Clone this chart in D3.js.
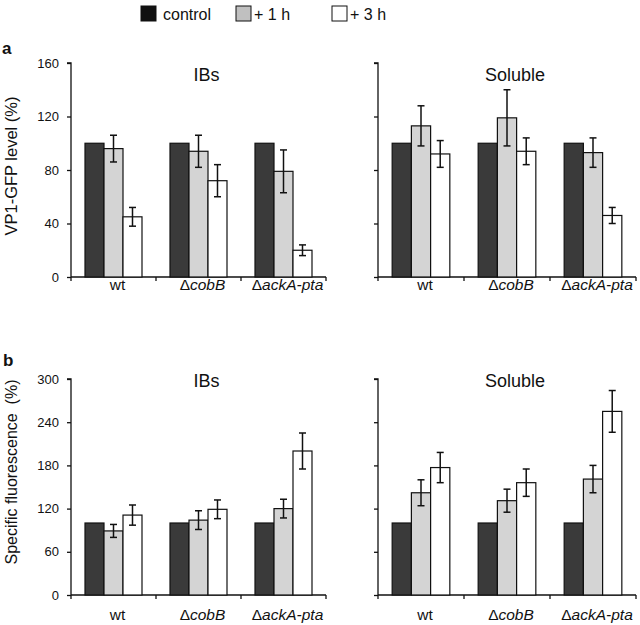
<!DOCTYPE html>
<html><head><meta charset="utf-8">
<script src="https://cdn.jsdelivr.net/npm/d3@7"></script>
<style>body{margin:0;background:#fff}svg{display:block}text{font-family:"Liberation Sans",Arial,sans-serif}</style>
</head><body>
<script>
const strains = ["wt", "ΔcobB", "ΔackA-pta"];
const series = ["control", "+ 1 h", "+ 3 h"];
const colors = ["#3a3a3a", "#d4d4d4", "#ffffff"];

// panel a: VP1-GFP level (%)
const aIBsVal = [[100, 96, 45], [100, 94, 72], [100, 79, 20]];
const aIBsErr = [[0, 10, 7], [0, 12, 12], [0, 16, 4]];
const aSolVal = [[100, 113, 92], [100, 119, 94], [100, 93, 46]];
const aSolErr = [[0, 15, 10], [0, 21, 10], [0, 11, 6]];
const aTicks = [0, 40, 80, 120, 160];

// panel b: Specific fluorescence (%)
const bIBsVal = [[100, 89, 111], [100, 104, 119], [100, 120, 200]];
const bIBsErr = [[0, 9, 14], [0, 13, 13], [0, 13, 25]];
const bSolVal = [[100, 142, 177], [100, 131, 156], [100, 161, 255]];
const bSolErr = [[0, 18, 21], [0, 16, 19], [0, 19, 29]];
const bTicks = [0, 60, 120, 180, 240, 300];

const W = 640, H = 625;
const svg = d3.select("body").append("svg").attr("width", W).attr("height", H);
const font = '"Liberation Sans",Arial,sans-serif';

function panel(x0, x1, y0, y1, vals, errs, ticks, title, showLabels, titleY, labelY) {
  const g = svg.append("g");
  const x = d3.scaleBand().domain(strains).range([x0, x1]).padding(0);
  const xi = d3.scaleBand().domain(series).range([0, x.bandwidth()]).paddingInner(0).paddingOuter(0.737);
  const y = d3.scaleLinear().domain([0, ticks[ticks.length - 1]]).range([y0, y1]);

  // y axis
  const ya = d3.axisLeft(y).tickValues(ticks).tickSize(4).tickPadding(8)
    .tickFormat(showLabels ? d3.format("d") : () => "");
  const yg = g.append("g").attr("transform", `translate(${x0},0)`).call(ya);
  yg.select(".domain").attr("d", `M-4,${y1}H0V${y0}`).attr("stroke", "#111").attr("stroke-width", 1.3);
  yg.selectAll(".tick line").attr("stroke", "#111").attr("stroke-width", 1.3);
  yg.selectAll(".tick text").attr("font-size", 13).attr("font-family", font).attr("fill", "#111");

  // x axis line with ticks at group boundaries
  const bounds = strains.map(s => x(s)).concat([x1]);
  g.append("line").attr("x1", x0).attr("x2", x1).attr("y1", y0).attr("y2", y0)
    .attr("stroke", "#111").attr("stroke-width", 1.3);
  g.selectAll(".xt").data(bounds).join("line")
    .attr("x1", d => d).attr("x2", d => d).attr("y1", y0).attr("y2", y0 + 4)
    .attr("stroke", "#111").attr("stroke-width", 1.3);

  // x labels
  strains.forEach((s, i) => {
    const t = g.append("text").attr("x", x(s) + x.bandwidth() / 2 + 4).attr("y", labelY)
      .attr("text-anchor", "middle").attr("font-size", 15.5).attr("fill", "#111");
    if (i === 0) t.text(s);
    else {
      t.append("tspan").text("Δ");
      t.append("tspan").attr("font-style", "italic").text(s.slice(1));
    }
  });

  // bars
  strains.forEach((s, i) => {
    series.forEach((se, j) => {
      const v = vals[i][j], e = errs[i][j];
      const bx = x(s) + xi(se), bw = xi.bandwidth();
      g.append("rect").attr("x", bx).attr("y", y(v)).attr("width", bw).attr("height", y0 - y(v))
        .attr("fill", colors[j]).attr("stroke", "#111").attr("stroke-width", 1.2);
      if (e > 0) {
        const cx = bx + bw / 2;
        g.append("line").attr("x1", cx).attr("x2", cx).attr("y1", y(v + e)).attr("y2", y(v - e))
          .attr("stroke", "#111").attr("stroke-width", 1.5);
        [v + e, v - e].forEach(t => g.append("line").attr("x1", cx - 3.5).attr("x2", cx + 3.5)
          .attr("y1", y(t)).attr("y2", y(t)).attr("stroke", "#111").attr("stroke-width", 1.5));
      }
    });
  });

  g.append("text").attr("x", (x0 + x1) / 2 + 8).attr("y", titleY).attr("text-anchor", "middle")
    .attr("font-size", 18).attr("fill", "#111").text(title);
}

panel(71, 326, 277, 63, aIBsVal, aIBsErr, aTicks, "IBs", true, 81, 290);
panel(378, 636, 277, 63, aSolVal, aSolErr, aTicks, "Soluble", false, 81, 290);
panel(71, 326, 595, 379, bIBsVal, bIBsErr, bTicks, "IBs", true, 387, 620);
panel(378, 636, 595, 379, bSolVal, bSolErr, bTicks, "Soluble", false, 387, 620);

// axis titles
svg.append("text").attr("transform", "translate(17,166) rotate(-90)").attr("text-anchor", "middle")
  .attr("font-size", 16.5).attr("fill", "#111").text("VP1-GFP level (%)");
svg.append("text").attr("transform", "translate(17,472) rotate(-90)").attr("text-anchor", "middle")
  .attr("font-size", 16).attr("fill", "#111").attr("xml:space", "preserve")
  .style("white-space", "pre").text("Specific fluorescence  (%)");

// panel letters
svg.append("text").attr("x", 2).attr("y", 54).attr("font-size", 17).attr("font-weight", "bold").attr("fill", "#111").text("a");
svg.append("text").attr("x", 3).attr("y", 366).attr("font-size", 17).attr("font-weight", "bold").attr("fill", "#111").text("b");

// legend
const legX = [141, 236, 332];
const lg = svg.append("g");
series.forEach((s, j) => {
  lg.append("rect").attr("x", legX[j]).attr("y", 6).attr("width", 15).attr("height", 15)
    .attr("fill", j === 0 ? "#111" : (j === 1 ? "#c0c0c0" : "#fff"))
    .attr("stroke", "#111").attr("stroke-width", 1);
  lg.append("text").attr("x", legX[j] + (j === 0 ? 22 : 18)).attr("y", 19.5)
    .attr("font-size", 16).attr("fill", "#111").text(s);
});
</script>
</body></html>
